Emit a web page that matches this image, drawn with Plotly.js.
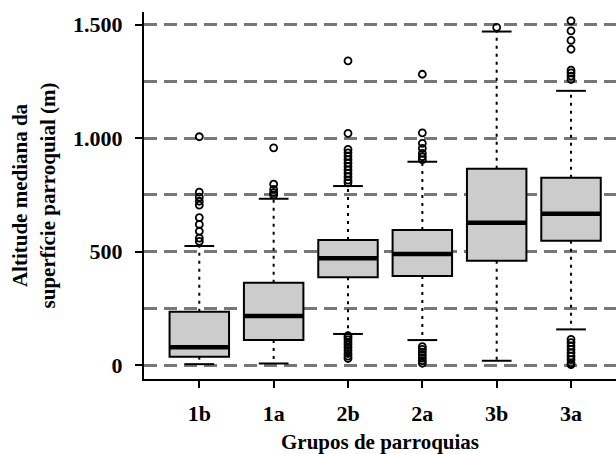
<!DOCTYPE html>
<html>
<head>
<meta charset="utf-8">
<script src="https://cdn.plot.ly/plotly-3.0.1.min.js"></script>
<style>html,body{margin:0;padding:0;background:#fff;}#chart{width:616px;height:454px;}</style>
</head>
<body>
<div id="chart"></div>
<script>
// ---- data ----
var categories = ['1b', '1a', '2b', '2a', '3b', '3a'];
var q1Values     = [38, 111, 387, 393, 460, 548];
var medianValues = [79, 217, 471, 490, 627, 667];
var q3Values     = [236, 363, 551, 595, 865, 825];
var lowerWhisker = [5, 8, 138, 111, 20, 158];
var upperWhisker = [525, 733, 789, 896, 1469, 1208];

var outliers1b = [1006, 762, 740, 722, 705, 650, 620, 590, 560, 545];
var outliers1a = [957, 797, 774, 760, 750];
var outliers2b = [1340, 1021, 950, 935, 920, 905, 890, 875, 860, 845, 830, 815, 803,
                  130, 122, 112, 100, 90, 78, 65, 52, 40, 30];
var outliers2a = [1281, 1023, 977, 955, 933, 918, 905,
                  82, 70, 58, 45, 32, 20, 9];
var outliers3b = [1487];
var outliers3a = [1516, 1472, 1430, 1391, 1299, 1287, 1273, 1258,
                  114, 100, 85, 70, 55, 40, 25, 10, 3];

var yTickValues = [0, 500, 1000, 1500];
var yTickLabels = ['0', '500', '1.000', '1.500'];

// ---- build traces ----
var positions = categories.map(function (c, i) { return i + 1; });
var boxWidth = 0.8;
var stapleHalf = boxWidth / 4;
var medianHalf = boxWidth / 2;

var boxTrace = {
  type: 'box',
  x: positions,
  q1: q1Values,
  median: medianValues,
  q3: q3Values,
  lowerfence: q1Values,
  upperfence: q3Values,
  width: boxWidth,
  whiskerwidth: 0,
  fillcolor: '#cccccc',
  line: {color: '#000000', width: 2},
  boxpoints: false,
  hoverinfo: 'skip',
  showlegend: false
};

var wx = [], wy = [], sx = [], sy = [], mx = [], my = [];
positions.forEach(function (p, i) {
  wx.push(p, p, null, p, p, null);
  wy.push(q3Values[i], upperWhisker[i], null, q1Values[i], lowerWhisker[i], null);
  sx.push(p - stapleHalf, p + stapleHalf, null, p - stapleHalf, p + stapleHalf, null);
  sy.push(upperWhisker[i], upperWhisker[i], null, lowerWhisker[i], lowerWhisker[i], null);
  mx.push(p - medianHalf, p + medianHalf, null);
  my.push(medianValues[i], medianValues[i], null);
});

var whiskerTrace = {
  type: 'scatter', mode: 'lines', x: wx, y: wy,
  line: {color: '#000000', width: 2, dash: '3px,5px'},
  hoverinfo: 'skip', showlegend: false
};
var stapleTrace = {
  type: 'scatter', mode: 'lines', x: sx, y: sy,
  line: {color: '#000000', width: 2},
  hoverinfo: 'skip', showlegend: false
};
var medianTrace = {
  type: 'scatter', mode: 'lines', x: mx, y: my,
  line: {color: '#000000', width: 4.5},
  hoverinfo: 'skip', showlegend: false
};

var outlierGroups = [outliers1b, outliers1a, outliers2b, outliers2a, outliers3b, outliers3a];
var ox = [], oy = [];
outlierGroups.forEach(function (g, i) {
  g.forEach(function (v) { ox.push(positions[i]); oy.push(v); });
});
var outlierTrace = {
  type: 'scatter', mode: 'markers', x: ox, y: oy,
  marker: {symbol: 'circle-open', size: 7, color: '#000000', line: {width: 1.8, color: '#000000'}},
  hoverinfo: 'skip', showlegend: false
};

var gridStyle = {color: '#777777', width: 3, dash: '13px,7px'};
var tickFont = {family: 'Liberation Serif', size: 22, color: '#000000', weight: 'bold'};
var titleFont = {family: 'Liberation Serif', size: 21, color: '#000000', weight: 'bold'};

var layout = {
  width: 616, height: 454,
  margin: {l: 144, r: 0, t: 12, b: 75},
  paper_bgcolor: '#ffffff', plot_bgcolor: '#ffffff',
  font: titleFont,
  showlegend: false,
  xaxis: {
    range: [0.256, 6.605],
    tickmode: 'array', tickvals: positions, ticktext: categories,
    showgrid: false, zeroline: false,
    showline: true, linecolor: '#000000', linewidth: 2,
    ticks: 'outside', ticklen: 7, tickwidth: 2, tickcolor: '#000000',
    ticklabelstandoff: 7,
    tickfont: tickFont,
    title: {text: 'Grupos de parroquias', font: titleFont, standoff: 15},
    automargin: false, fixedrange: true
  },
  yaxis: {
    range: [-60.3, 1555],
    tickmode: 'array', tickvals: yTickValues, ticktext: yTickLabels,
    showgrid: true, gridcolor: gridStyle.color, gridwidth: gridStyle.width, griddash: gridStyle.dash,
    minor: {tickmode: 'linear', tick0: 0, dtick: 250, showgrid: true,
            gridcolor: gridStyle.color, gridwidth: gridStyle.width, griddash: gridStyle.dash,
            ticks: '', ticklen: 0},
    zeroline: false,
    showline: true, linecolor: '#000000', linewidth: 2,
    ticks: 'outside', ticklen: 7, tickwidth: 2, tickcolor: '#000000',
    ticklabelstandoff: 8,
    tickfont: tickFont,
    title: {text: 'Altitude mediana da<br>superfície parroquial (m)', font: titleFont, standoff: 12},
    automargin: false, fixedrange: true
  }
};

Plotly.newPlot('chart', [boxTrace, whiskerTrace, stapleTrace, medianTrace, outlierTrace], layout,
  {displayModeBar: false, staticPlot: true});
</script>
</body>
</html>
